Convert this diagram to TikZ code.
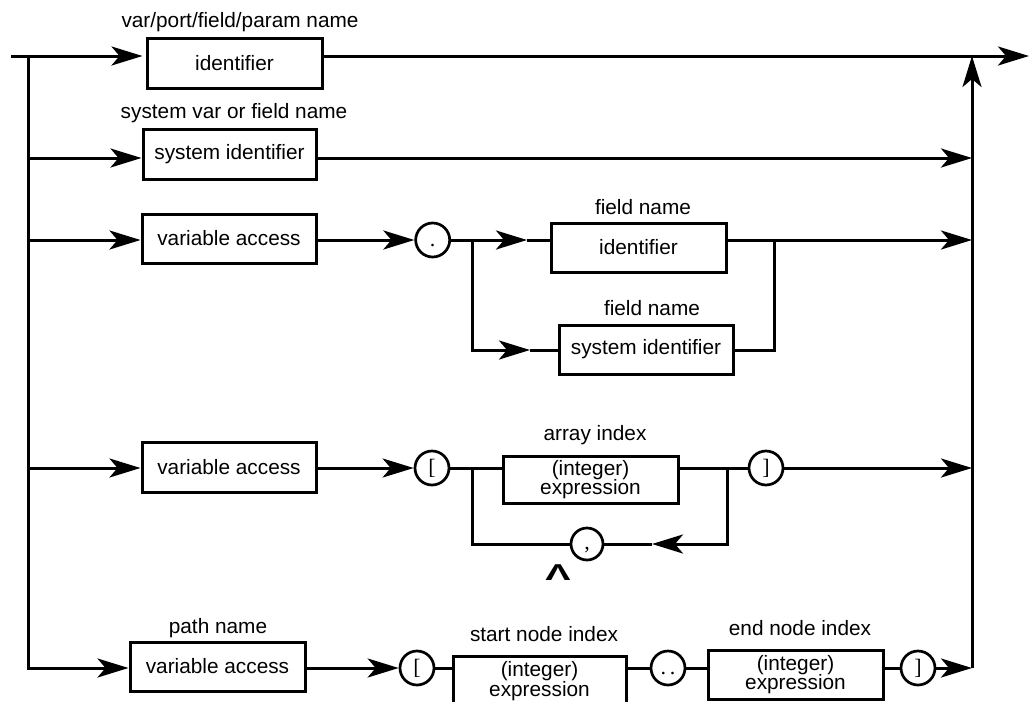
\documentclass[tikz,border=0pt]{standalone}
\usepackage{fontspec}
\setmainfont{Liberation Sans}
\newfontfamily\serifa{Liberation Serif}
\usetikzlibrary{arrows.meta}
\begin{document}
\begin{tikzpicture}[x=1pt,y=-1pt,
  ln/.style={line width=3pt},
  arr/.style={ln,-{Stealth[length=31pt,width=19pt,inset=8pt]}},
  box/.style={draw,line width=3pt,rectangle,inner sep=0pt,minimum width=175pt,minimum height=50pt,
    font=\fontsize{20.8}{19.5}\selectfont,align=center},
  term/.style={draw,circle,line width=2.7pt,minimum size=34pt,inner sep=0pt,font=\serifa\fontsize{22}{22}\selectfont},
  lbl/.style={font=\fontsize{20.8}{22}\selectfont,inner sep=0pt}]
\useasboundingbox (0,0) rectangle (1029,702);
\clip (0,0) rectangle (1029,702);

% nodes
\node[box] (b1) at (234.5,63) {identifier};
\node[box,minimum width=173pt] (b2) at (229.5,154) {system identifier};
\node[box,minimum width=174pt,minimum height=49pt] (va3) at (229,238.5) {variable access};
\node[term] (dot) at (432.7,240) {\vphantom{[}.};
\node[box,minimum height=49pt] (f1) at (638.5,247.5) {identifier};
\node[box,minimum width=174pt,minimum height=49pt] (s1) at (646,349.5) {system identifier};
\node[box,minimum width=174pt] (va4) at (229,467) {variable access};
\node[term] (lb4) at (432,468) {[};
\node[box,minimum height=47pt] (ie4) at (590.5,479.5) {(integer)\\expression};
\node[term] (rb4) at (766,468) {]};
\node[term,minimum size=32pt] (cm) at (587,544) {\vphantom{[},};
\node[inner sep=0pt,font=\fontsize{27}{27}\selectfont\bfseries] (caret) at (558,573) {\scalebox{1.4}[0.85]{Λ}};
\node[box,minimum height=49pt] (pv) at (217.5,666.5) {variable access};
\node[term] (lb5) at (417,668) {[};
\node[box,minimum width=173pt] (sb) at (539.5,681) {(integer)\\expression};
\node[term] (dd) at (668,668) {\vphantom{[}.\,.};
\node[box,minimum height=49pt] (eb) at (795.5,674.5) {(integer)\\expression};
\node[term] (rb5) at (918,668) {]};

% labels
\node[lbl] (l1) at (240,22) {var/port/field/param name};
\node[lbl] (l2) at (234,113) {system var or field name};
\node[lbl] (l3) at (643,207) {field name};
\node[lbl] (l4) at (652,308) {field name};
\node[lbl] (l5) at (595,435) {array index};
\node[lbl] (l6) at (218,628) {path name};
\node[lbl] (l7) at (544,634) {start node index};
\node[lbl] (l8) at (800,628) {end node index};

% coordinates
\coordinate (S) at (11,56);
\coordinate (L1) at (28,56);
\coordinate (L2) at (28,158);
\coordinate (L3) at (28,240);
\coordinate (L4) at (28,468);
\coordinate (L5) at (28,668);
\coordinate (E) at (1029,56);
\coordinate (R1) at (972,56);
\coordinate (R2) at (972,158);
\coordinate (R3) at (972,240);
\coordinate (R4) at (972,468);
\coordinate (R5) at (972,668);
\coordinate (J3a) at (472,240);
\coordinate (J3b) at (774,240);
\coordinate (J3c) at (472,350);
\coordinate (J3d) at (774,350);
\coordinate (T3a) at (527,240);
\coordinate (T3b) at (530,350);
\coordinate (J4a) at (472,468);
\coordinate (J4b) at (727,468);
\coordinate (J4c) at (472,544);
\coordinate (J4d) at (727,544);
\coordinate (T4) at (652,544);

% main rails
\draw[arr] (L1) -- (L5) -- (pv.west|-L5);
\draw[arr] (R5) -- (R1);
\draw[arr,shorten >=3pt] (S) -- (b1.west|-S);
\draw[arr] (b1.east|-S) -- (E);

% row 2
\draw[arr] (L2) -- (b2.west|-L2);
\draw[arr] (b2.east|-L2) -- (R2);

% row 3
\draw[arr] (L3) -- (va3.west|-L3);
\draw[arr] (va3.east|-L3) -- (dot);
\draw[arr] (dot) -- (J3a) -- (T3a);
\draw[ln] (T3a) -- (f1.west|-T3a);
\draw[arr] (J3a) -- (J3c) -- (T3b);
\draw[ln] (T3b) -- (s1.west|-T3b);
\draw[ln] (s1.east|-J3d) -- (J3d) -- (J3b);
\draw[arr] (f1.east|-J3b) -- (R3);

% row 4
\draw[arr] (L4) -- (va4.west|-L4);
\draw[arr] (va4.east|-L4) -- (lb4);
\draw[ln] (lb4) -- (ie4.west|-J4a);
\draw[ln] (ie4.east|-J4b) -- (rb4);
\draw[arr] (rb4) -- (R4);
\draw[arr] (J4b) -- (J4d) -- (T4);
\draw[ln] (T4) -- (cm);
\draw[ln] (cm) -- (J4c) -- (J4a);

% row 5
\draw[arr] (pv.east|-L5) -- (lb5);
\draw[ln] (lb5) -- (sb.west|-lb5);
\draw[ln] (sb.east|-lb5) -- (dd);
\draw[ln] (dd) -- (eb.west|-dd);
\draw[ln] (eb.east|-dd) -- (rb5);
\draw[arr] (rb5) -- (R5);
\end{tikzpicture}
\end{document}
